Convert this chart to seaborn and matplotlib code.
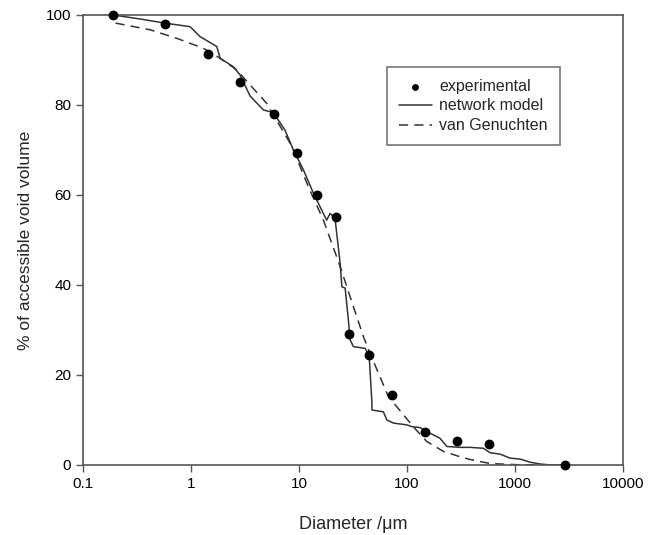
import matplotlib
matplotlib.use("Agg")
import matplotlib.pyplot as plt
import seaborn as sns
import pandas as pd
from matplotlib.ticker import FixedLocator, FixedFormatter, NullLocator

# experimental points
exp_d = [0.19, 0.57, 1.45, 2.86, 5.8, 9.6, 14.5, 22.0, 28.9, 44.5, 72.6, 146, 288, 578, 2900]
exp_v = [100, 98.0, 91.3, 85.0, 78.1, 69.4, 60.0, 55.0, 29.1, 24.4, 15.6, 7.3, 5.4, 4.7, 0]

# network model (traced)
net_d = [0.19, 0.34, 0.57, 0.98, 1.21, 1.73, 1.86, 2.46, 2.84, 3.52, 4.67, 5.78, 7.41, 8.86,
         10.96, 13.56, 18.0, 19.4, 21.5, 22.3, 24.0, 24.9, 26.7, 28.6, 29.7, 31.8, 40.8,
         44.5, 47.1, 47.3, 60.3, 64.9, 74.7, 99.3, 110.6, 132, 152, 188, 202, 233, 310,
         383, 508, 587, 726, 899, 1112, 1377, 1704, 2109, 2900]
net_v = [100, 99.1, 98.2, 97.4, 95.2, 93.0, 90.4, 88.5, 86.7, 82.0, 78.9, 78.3, 74.4, 70.0,
         65.6, 60.4, 54.4, 55.9, 54.8, 51.5, 44.8, 39.6, 39.3, 32.2, 27.8, 26.3, 25.9,
         24.4, 14.4, 12.2, 11.8, 10.0, 9.3, 8.9, 8.5, 8.3, 7.4, 6.3, 5.9, 4.1, 3.9,
         3.9, 3.7, 2.7, 2.4, 1.5, 1.3, 0.6, 0.2, 0, 0]

# van Genuchten fit (traced)
vg_d = [0.2, 0.42, 0.74, 1.3, 1.67, 2.65, 3.3, 5.0, 8.5, 12.2, 16.8, 24.0, 31.8, 39.4,
        45.4, 67.0, 114, 152, 217, 310, 383, 590, 1040, 2100]
vg_v = [98.2, 96.7, 94.8, 92.6, 91.1, 87.8, 85.2, 80.4, 71.0, 61.8, 54.4, 44.1, 35.2, 28.5,
        24.8, 15.2, 8.5, 5.2, 3.0, 1.8, 1.2, 0.3, 0.05, 0]

x_ticks = [0.1, 1, 10, 100, 1000, 10000]
x_labels = ["0.1", "1", "10", "100", "1000", "10000"]
y_ticks = [0, 20, 40, 60, 80, 100]

sns.set_style("ticks")
plt.rcParams['font.family'] = ['Liberation Sans', 'DejaVu Sans']

fig = plt.figure(figsize=(6.56, 5.35), dpi=100)
ax = fig.add_axes([0.1265, 0.131, 0.8235, 0.841])

net = pd.DataFrame({'d': net_d, 'v': net_v})
vg = pd.DataFrame({'d': vg_d, 'v': vg_v})
ex = pd.DataFrame({'d': exp_d, 'v': exp_v})

sns.lineplot(data=net, x='d', y='v', ax=ax, sort=False, estimator=None,
             color='#333333', linewidth=1.1, label='network model')
sns.lineplot(data=vg, x='d', y='v', ax=ax, sort=False, estimator=None,
             color='#333333', linewidth=1.1, dashes=False, label='van Genuchten')
ax.lines[1].set_linestyle((0, (6, 4)))
sns.scatterplot(data=ex, x='d', y='v', ax=ax, color='black', s=50,
                edgecolor='black', linewidth=0, label='experimental', zorder=5, clip_on=False)

ax.set_xscale('log')
ax.set_xlim(0.1, 10000)
ax.set_ylim(0, 100)
ax.xaxis.set_major_locator(FixedLocator(x_ticks))
ax.xaxis.set_major_formatter(FixedFormatter(x_labels))
ax.xaxis.set_minor_locator(NullLocator())
ax.set_yticks(y_ticks)

for sp in ax.spines.values():
    sp.set_color('#555555')
    sp.set_linewidth(1.2)
ax.tick_params(axis='both', direction='out', length=5, width=1, color='#555555',
               labelsize=11, labelcolor='black')

ax.set_xlabel('Diameter /\u03bcm', fontsize=13, labelpad=18)
ax.set_ylabel('% of accessible void volume', fontsize=12.5, labelpad=9)

handles, labels = ax.get_legend_handles_labels()
order = [labels.index('experimental'), labels.index('network model'), labels.index('van Genuchten')]
leg = ax.legend([handles[i] for i in order], [labels[i] for i in order],
                loc='upper left', bbox_to_anchor=(0.562, 0.885), borderaxespad=0,
                fontsize=11.5, frameon=True, fancybox=False, edgecolor='#555555',
                handlelength=2.1, handletextpad=0.45, borderpad=0.75,
                labelspacing=0.3, markerscale=0.7)
leg.get_frame().set_linewidth(1.2)

fig.savefig('out.png', dpi=100)
